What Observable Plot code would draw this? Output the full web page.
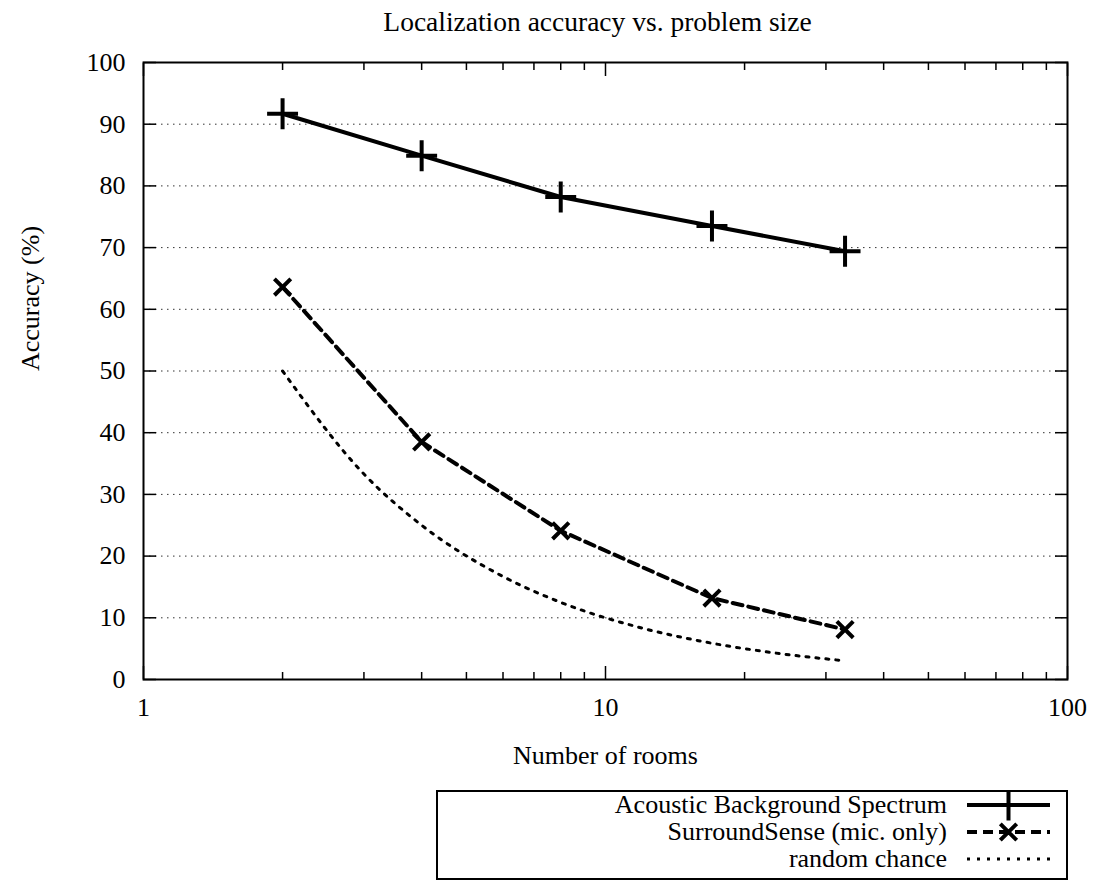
<!DOCTYPE html>
<html>
<head>
<meta charset="utf-8">
<script src="https://cdn.jsdelivr.net/npm/d3@7"></script>
<script src="https://cdn.jsdelivr.net/npm/@observablehq/plot@0.6"></script>
<style>
  body { margin: 0; background: #fff; }
  #chart { position: relative; width: 1101px; height: 881px; font-family: "Liberation Serif", "Times New Roman", serif; }
</style>
</head>
<body>
<div id="chart"></div>
<script>
// Measured accuracy per number of rooms
const rooms = [2, 4, 8, 17, 33];
const acoustic = [91.7, 84.9, 78.2, 73.5, 69.4];
const surroundSense = [63.6, 38.5, 24.1, 13.2, 8.1];

// Random-guess baseline (1 / rooms)
const chanceRooms = [2, 3, 4, 6, 8, 12, 16, 24, 32];
const chance = [50, 33.3, 25, 16.7, 12.5, 8.33, 6.25, 4.17, 3.13];

const seriesNames = ["Acoustic Background Spectrum", "SurroundSense (mic. only)", "random chance"];

const yTicks = [0, 10, 20, 30, 40, 50, 60, 70, 80, 90, 100];
const xMajorTicks = [1, 10, 100];
const xMinorTicks = [2, 3, 4, 5, 6, 7, 8, 9, 20, 30, 40, 50, 60, 70, 80, 90];

const titleText = "Localization accuracy vs. problem size";
const xLabel = "Number of rooms";
const yLabel = "Accuracy (%)";

const acousticData = rooms.map((n, i) => ({n, v: acoustic[i]}));
const surroundData = rooms.map((n, i) => ({n, v: surroundSense[i]}));
const chanceData = chanceRooms.map((n, i) => ({n, v: chance[i]}));

// line styles shared by plot and legend
const solidStyle = {stroke: "black", strokeWidth: 4};
const dashStyle = {stroke: "black", strokeWidth: 4, strokeDasharray: "10,6"};
const dotStyle = {stroke: "black", strokeWidth: 3, strokeDasharray: "3,7"};
const plusR = 10, timesR = 7.5;

const chart = Plot.plot({
  width: 1101,
  height: 785,
  marginTop: 62,
  marginLeft: 143,
  marginRight: 34,
  marginBottom: 106,
  style: {fontFamily: "Liberation Serif, Times New Roman, serif", fontSize: "26px", color: "black", background: "white", overflow: "visible"},
  x: {type: "log", domain: [1, 100]},
  y: {domain: [0, 100]},
  marks: [
    Plot.gridY(yTicks.filter(d => d > 0 && d < 100), {stroke: "#333", strokeOpacity: 1, strokeWidth: 1, strokeDasharray: "1.5,4.5"}),
    Plot.axisY({ticks: yTicks, tickSize: -13, tickPadding: 31, tickFormat: d => String(d), label: null, strokeWidth: 1.5}),
    Plot.axisY({anchor: "right", ticks: yTicks, tickSize: -13, tickFormat: () => "", label: null, strokeWidth: 1.5}),
    Plot.axisX({ticks: xMajorTicks, tickSize: -13, tickPadding: 31, tickFormat: d => String(d), label: null, strokeWidth: 1.5}),
    Plot.axisX({ticks: xMinorTicks, tickSize: -7, tickFormat: () => "", label: null, strokeWidth: 1.5}),
    Plot.axisX({anchor: "top", ticks: xMajorTicks, tickSize: -13, tickFormat: () => "", label: null, strokeWidth: 1.5}),
    Plot.axisX({anchor: "top", ticks: xMinorTicks, tickSize: -7, tickFormat: () => "", label: null, strokeWidth: 1.5}),
    Plot.frame({stroke: "black", strokeWidth: 2}),
    Plot.line(chanceData, {x: "n", y: "v", curve: "monotone-x", ...dotStyle}),
    Plot.line(surroundData, {x: "n", y: "v", ...dashStyle}),
    Plot.line(acousticData, {x: "n", y: "v", ...solidStyle}),
    Plot.dot(acousticData, {x: "n", y: "v", symbol: "plus", r: plusR, stroke: "black", strokeWidth: 4}),
    Plot.dot(surroundData, {x: "n", y: "v", symbol: "times", r: timesR, stroke: "black", strokeWidth: 4}),
    Plot.text([titleText], {frameAnchor: "top", dx: -8, dy: -40, lineAnchor: "middle", fontSize: 27.5}),
    Plot.text([xLabel], {frameAnchor: "bottom", dy: 76, lineAnchor: "middle"}),
    Plot.text([yLabel], {frameAnchor: "left", dx: -113, rotate: -90, lineAnchor: "middle"})
  ]
});
document.getElementById("chart").append(chart);

// Key box below the plot
const legendW = 632, legendH = 90, rowY = [15, 42, 69];
const legend = d3.select("#chart").append("svg")
  .attr("width", legendW).attr("height", legendH)
  .style("position", "absolute").style("left", "436px").style("top", "790px")
  .style("font-family", "Liberation Serif, Times New Roman, serif").style("font-size", "26px");
legend.append("rect").attr("x", 1).attr("y", 1).attr("width", legendW - 2).attr("height", legendH - 2)
  .attr("fill", "white").attr("stroke", "black").attr("stroke-width", 2);

const legendStyles = [solidStyle, dashStyle, dotStyle];
const legendSymbols = [[d3.symbolPlus, plusR], [d3.symbolTimes, timesR], null];
const textX = 511, s0 = 531, s1 = 614;
seriesNames.forEach((name, i) => {
  const y = rowY[i];
  legend.append("text").attr("x", textX).attr("y", y).attr("dy", "0.32em")
    .attr("text-anchor", "end").text(name);
  const st = legendStyles[i];
  legend.append("line").attr("x1", s0).attr("x2", s1).attr("y1", y).attr("y2", y)
    .attr("stroke", st.stroke).attr("stroke-width", st.strokeWidth)
    .attr("stroke-dasharray", st.strokeDasharray || null);
  if (legendSymbols[i]) {
    const [sym, r] = legendSymbols[i];
    legend.append("path").attr("transform", `translate(${(s0 + s1) / 2},${y})`)
      .attr("d", d3.symbol(sym, Math.PI * r * r)())
      .attr("fill", "none").attr("stroke", "black").attr("stroke-width", 4);
  }
});
</script>
</body>
</html>
